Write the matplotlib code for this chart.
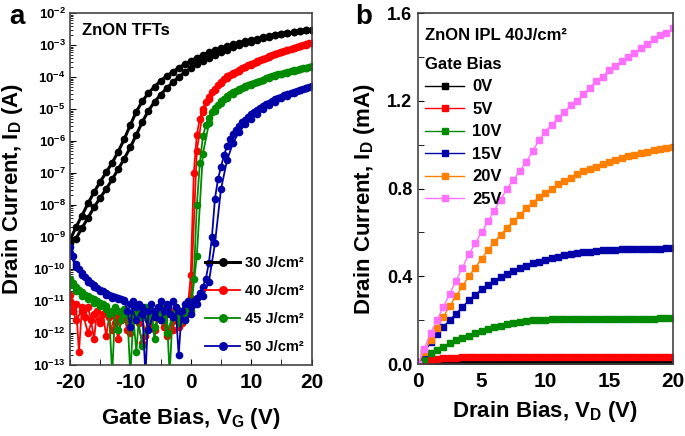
import numpy as np
import matplotlib
matplotlib.use("Agg")
import matplotlib.pyplot as plt
from matplotlib.ticker import FixedLocator, FixedFormatter, MultipleLocator, LogLocator, NullFormatter

plt.rcParams["font.family"] = ["Liberation Sans", "DejaVu Sans"]
plt.rcParams["font.weight"] = "bold"
plt.rcParams["axes.labelweight"] = "bold"
plt.rcParams["axes.unicode_minus"] = False
plt.rcParams["mathtext.fontset"] = "custom"
plt.rcParams["mathtext.rm"] = "Liberation Sans:bold"
plt.rcParams["mathtext.bf"] = "Liberation Sans:bold"
plt.rcParams["mathtext.it"] = "Liberation Sans:bold"

# ---- panel a: transfer curves, log10(I_D / A) ----
VG_FINE = np.arange(-20, 20.01, 0.5)     # forward sweep, 81 pts
VG_COARSE = np.arange(-20, 20.01, 1.0)   # other sweeps, 41 pts

black_up = [-9.10, -8.70, -8.33, -7.95, -7.60, -7.28, -6.98, -6.68, -6.33, -5.94,
            -5.50, -5.08, -4.75, -4.50, -4.30, -4.12, -3.97, -3.84, -3.71, -3.60,
            -3.49, -3.39, -3.31, -3.23, -3.16, -3.10, -3.04, -2.98, -2.93, -2.88,
            -2.84, -2.80, -2.76, -2.72, -2.68, -2.65, -2.62, -2.59, -2.56, -2.54, -2.52]
black_dn = [-9.20, -9.05, -8.72, -8.40, -8.07, -7.78, -7.50, -7.20, -6.88, -6.55,
            -6.20, -5.80, -5.40, -5.05, -4.78, -4.55, -4.35, -4.17, -4.00, -3.85,
            -3.72, -3.60, -3.49, -3.39, -3.30, -3.22, -3.14, -3.07, -3.00, -2.95,
            -2.90, -2.84, -2.79, -2.75, -2.70, -2.66, -2.63, -2.60, -2.57, -2.54, -2.52]

red_fwd = [-10.8, -11.3, -11.1, -12.6, -11.2, -11.5, -11.2, -11.6, -12.2, -11.3,
           -11.6, -11.4, -12.1, -11.5, -11.4, -11.7, -12.2, -11.6, -11.5, -11.9,
           -11.4, -11.6, -11.3, -11.7, -11.5, -12.1, -11.4, -11.8, -11.5, -11.3,
           -11.6, -11.8, -11.4, -11.3, -11.9, -11.5, -11.4, -11.7, -11.3, -11.2,
           -10.2, -7.0, -5.8, -5.3, -5.0, -4.78, -4.62, -4.48, -4.36, -4.25,
           -4.15, -4.06, -3.98, -3.93, -3.88, -3.83, -3.78, -3.73, -3.68, -3.63,
           -3.59, -3.55, -3.51, -3.47, -3.43, -3.39, -3.35, -3.31, -3.28, -3.24,
           -3.21, -3.18, -3.15, -3.12, -3.09, -3.06, -3.03, -3.00, -2.98, -2.95, -2.93]
red_rev = [-11.0, -11.6, -11.3, -12.0, -11.4, -11.7, -11.3, -11.9, -11.5, -11.4,
           -12.0, -11.5, -12.3, -11.6, -11.9, -11.4, -12.1, -11.6, -11.8, -11.5,
           -10.9, -6.3, -5.1, -4.68, -4.42, -4.20, -4.02, -3.90, -3.80, -3.70,
           -3.61, -3.52, -3.44, -3.36, -3.29, -3.22, -3.16, -3.10, -3.04, -2.99, -2.94]

green_fwd = [-10.3, -10.45, -10.55, -10.65, -10.72, -10.8, -10.85, -10.9, -10.95, -11.0,
             -11.05, -11.1, -11.15, -11.4, -13.3, -11.2, -11.3, -11.6, -11.25, -11.4,
             -13.3, -11.5, -12.6, -11.3, -11.5, -11.2, -11.6, -11.3, -12.2, -11.4,
             -11.2, -11.6, -11.3, -13.3, -11.4, -11.2, -11.5, -11.3, -11.6, -11.2,
             -11.0, -10.3, -8.0, -6.7, -5.85, -5.5, -5.27, -5.1, -4.97, -4.86,
             -4.76, -4.68, -4.60, -4.54, -4.48, -4.43, -4.38, -4.33, -4.29, -4.25,
             -4.22, -4.18, -4.15, -4.11, -4.08, -4.04, -4.01, -3.98, -3.95, -3.92,
             -3.89, -3.86, -3.84, -3.81, -3.79, -3.77, -3.75, -3.73, -3.71, -3.69, -3.67]
green_rev = [-10.5, -10.7, -10.85, -10.95, -11.05, -11.15, -11.25, -11.3, -11.9, -11.4,
             -11.7, -11.3, -12.4, -11.5, -11.8, -11.4, -12.0, -11.5, -11.7, -11.4,
             -11.3, -9.6, -6.4, -5.45, -5.05, -4.82, -4.65, -4.52, -4.41, -4.32,
             -4.24, -4.17, -4.10, -4.03, -3.97, -3.91, -3.86, -3.81, -3.76, -3.72, -3.68]

blue_fwd = [-9.3, -9.6, -9.85, -10.0, -10.12, -10.25, -10.35, -10.43, -10.5, -10.58,
            -10.65, -10.7, -10.75, -10.8, -10.85, -10.88, -10.92, -10.95, -10.97, -11.3,
            -11.8, -11.0, -11.2, -11.1, -11.4, -13.3, -11.3, -11.1, -11.5, -11.2,
            -11.0, -11.3, -11.1, -11.4, -11.0, -11.2, -12.7, -11.3, -11.1, -11.0,
            -11.2, -11.0, -10.9, -10.75, -10.55, -10.3, -9.8, -9.0, -7.8, -7.2,
            -6.8, -6.45, -6.15, -5.95, -5.78, -5.64, -5.52, -5.42, -5.33, -5.25,
            -5.17, -5.10, -5.03, -4.97, -4.91, -4.85, -4.80, -4.75, -4.70, -4.65,
            -4.61, -4.57, -4.53, -4.50, -4.46, -4.43, -4.40, -4.36, -4.33, -4.30, -4.27]
blue_rev = [-9.5, -9.95, -10.2, -10.4, -10.55, -10.7, -10.8, -10.9, -10.95, -11.0,
            -11.1, -11.6, -11.2, -11.9, -11.3, -11.6, -11.2, -11.5, -11.3, -11.6,
            -11.4, -11.1, -10.85, -10.4, -9.2, -7.5, -6.6, -6.05, -5.72, -5.48,
            -5.30, -5.14, -5.00, -4.88, -4.77, -4.67, -4.58, -4.50, -4.42, -4.35, -4.28]

FLUENCE = ["30 J/cm²", "40 J/cm²", "45 J/cm²", "50 J/cm²"]

# ---- panel b: output curves, I_D in mA ----
VD = np.arange(0, 20.01, 0.5)
id_0v = [0.0, 0.001, 0.001, 0.002, 0.002, 0.002, 0.002, 0.002, 0.002, 0.002,
         0.002, 0.002, 0.002, 0.002, 0.002, 0.002, 0.002, 0.002, 0.002, 0.002,
         0.002, 0.002, 0.002, 0.002, 0.002, 0.002, 0.002, 0.002, 0.002, 0.002,
         0.002, 0.002, 0.002, 0.002, 0.002, 0.002, 0.002, 0.002, 0.002, 0.002, 0.002]
id_5v = [0.0, 0.010, 0.018, 0.023, 0.026, 0.028, 0.029, 0.030, 0.030, 0.030,
         0.030, 0.030, 0.030, 0.030, 0.030, 0.030, 0.030, 0.030, 0.030, 0.030,
         0.031, 0.031, 0.031, 0.031, 0.031, 0.031, 0.031, 0.031, 0.031, 0.031,
         0.031, 0.031, 0.031, 0.031, 0.031, 0.031, 0.031, 0.031, 0.031, 0.031, 0.031]
id_10v = [0.0, 0.025, 0.05, 0.065, 0.08, 0.095, 0.108, 0.12, 0.13, 0.14,
          0.15, 0.16, 0.168, 0.175, 0.182, 0.188, 0.193, 0.197, 0.2, 0.202,
          0.203, 0.204, 0.204, 0.205, 0.205, 0.205, 0.205, 0.206, 0.206, 0.206,
          0.206, 0.206, 0.207, 0.207, 0.207, 0.207, 0.207, 0.207, 0.208, 0.208, 0.208]
id_15v = [0.0, 0.05, 0.1, 0.135, 0.17, 0.2, 0.23, 0.26, 0.29, 0.315,
          0.34, 0.36, 0.38, 0.397, 0.412, 0.426, 0.438, 0.449, 0.459, 0.467,
          0.475, 0.482, 0.489, 0.495, 0.5, 0.505, 0.509, 0.512, 0.515, 0.518,
          0.52, 0.522, 0.523, 0.524, 0.525, 0.525, 0.526, 0.526, 0.526, 0.527, 0.527]
id_20v = [0.0, 0.055, 0.11, 0.165, 0.215, 0.265, 0.31, 0.355, 0.4, 0.44,
          0.48, 0.52, 0.555, 0.59, 0.62, 0.65, 0.68, 0.71, 0.735, 0.76,
          0.78, 0.8, 0.82, 0.835, 0.85, 0.865, 0.88, 0.89, 0.9, 0.91,
          0.92, 0.93, 0.94, 0.948, 0.955, 0.962, 0.968, 0.974, 0.979, 0.984, 0.988]
id_25v = [0.0, 0.07, 0.14, 0.2, 0.26, 0.32, 0.38, 0.44, 0.5, 0.55,
          0.6, 0.65, 0.7, 0.75, 0.8, 0.84, 0.88, 0.92, 0.97, 1.02,
          1.06, 1.09, 1.12, 1.15, 1.18, 1.2, 1.23, 1.26, 1.29, 1.31,
          1.34, 1.36, 1.38, 1.4, 1.42, 1.44, 1.46, 1.48, 1.5, 1.51, 1.53]
GATE = ["0V", "5V", "10V", "15V", "20V", "25V"]

C_A = ["#000000", "#ff0000", "#008a00", "#0000a8"]
C_B = ["#000000", "#ff0000", "#008a00", "#0000a8", "#ff8000", "#ff70ff"]

fig = plt.figure(figsize=(6.85, 4.36), dpi=100)
axa = fig.add_axes([0.102, 0.163, 0.353, 0.807])
axb = fig.add_axes([0.610, 0.165, 0.372, 0.805])

# --- a ---
sweeps = [(black_up, black_dn, True), (red_fwd, red_rev, False),
          (green_fwd, green_rev, False), (blue_fwd, blue_rev, False)]
for (fwd, rev, coarse), col, lab in zip(sweeps, C_A, FLUENCE):
    xf = VG_COARSE if coarse else VG_FINE
    lw = 2.2 if coarse else 1.3
    axa.plot(VG_COARSE, 10.0 ** np.array(rev), color=col, lw=lw, marker="o",
             ms=4.5, mec=col, mfc=col)
    axa.plot(xf, 10.0 ** np.array(fwd), color=col, lw=lw, marker="o",
             ms=4.5, mec=col, mfc=col, label=lab)
axa.set_yscale("log")
axa.set_xlim(-20, 20)
axa.set_ylim(1e-13, 1e-2)
axa.xaxis.set_major_locator(MultipleLocator(10))
axa.xaxis.set_minor_locator(MultipleLocator(5))
dec = list(range(-13, -1))
axa.yaxis.set_major_locator(FixedLocator([10.0 ** d for d in dec]))
axa.yaxis.set_major_formatter(FixedFormatter([r"$10^{%d}$" % d for d in dec]))
axa.yaxis.set_minor_locator(LogLocator(base=10, subs=np.arange(2, 10), numticks=30))
axa.yaxis.set_minor_formatter(NullFormatter())
axa.tick_params(axis="x", which="both", direction="in", length=4, labelsize=15, pad=6)
axa.tick_params(axis="y", which="major", direction="in", length=4, labelsize=9.5, pad=3)
axa.tick_params(axis="y", which="minor", direction="in", length=2)
axa.tick_params(top=False, right=False, which="both")
axa.set_xlabel(r"Gate Bias, V$_{G}$ (V)", fontsize=16)
axa.set_ylabel(r"Drain Current, I$_{D}$ (A)", fontsize=16)
axa.xaxis.set_label_coords(0.5, -0.116)
axa.yaxis.set_label_coords(-0.186, 0.5)
axa.text(0.05, 0.95, "ZnON TFTs", transform=axa.transAxes, fontsize=12,
         va="center", ha="left")
axa.legend(loc="upper left", bbox_to_anchor=(0.56, 0.31), frameon=False,
           fontsize=10.5, handlelength=2.4, handletextpad=0.3, labelspacing=0.97,
           borderpad=0, borderaxespad=0, markerscale=1.2)

# --- b ---
for vals, col, lab in zip([id_0v, id_5v, id_10v, id_15v, id_20v, id_25v], C_B, GATE):
    axb.plot(VD, vals, color=col, lw=1.0, marker="s", ms=5, mec=col, mfc=col, label=lab)
axb.set_xlim(0, 20)
axb.set_ylim(0, 1.6)
axb.xaxis.set_major_locator(MultipleLocator(5))
axb.yaxis.set_major_locator(MultipleLocator(0.4))
axb.yaxis.set_minor_locator(MultipleLocator(0.2))
axb.yaxis.set_major_formatter(plt.FuncFormatter(lambda v, p: f"{v:.1f}"))
axb.tick_params(axis="x", which="both", direction="in", length=4, labelsize=15, pad=6)
axb.tick_params(axis="y", which="both", direction="in", length=4, labelsize=13, pad=4)
axb.tick_params(top=False, right=False, which="both")
axb.set_xlabel(r"Drain Bias, V$_{D}$ (V)", fontsize=16)
axb.set_ylabel(r"Drain Current, I$_{D}$ (mA)", fontsize=16)
axb.xaxis.set_label_coords(0.5, -0.10)
axb.yaxis.set_label_coords(-0.16, 0.47)
axb.text(0.03, 0.935, "ZnON IPL 40J/cm²", transform=axb.transAxes, fontsize=12,
         va="center", ha="left")
leg = axb.legend(loc="upper left", bbox_to_anchor=(0.03, 0.875), frameon=False,
                 title="Gate Bias", title_fontsize=12, alignment="left",
                 fontsize=12, handlelength=2.3, handletextpad=0.5, labelspacing=0.45,
                 borderpad=0, borderaxespad=0)

for ax in (axa, axb):
    for s in ax.spines.values():
        s.set_color("#444444")
        s.set_linewidth(1.2)

fig.text(0.025, 0.96, "a", fontsize=20, ha="center", va="center")
fig.text(0.531, 0.96, "b", fontsize=20, ha="center", va="center")

fig.savefig("out.png", dpi=100)
